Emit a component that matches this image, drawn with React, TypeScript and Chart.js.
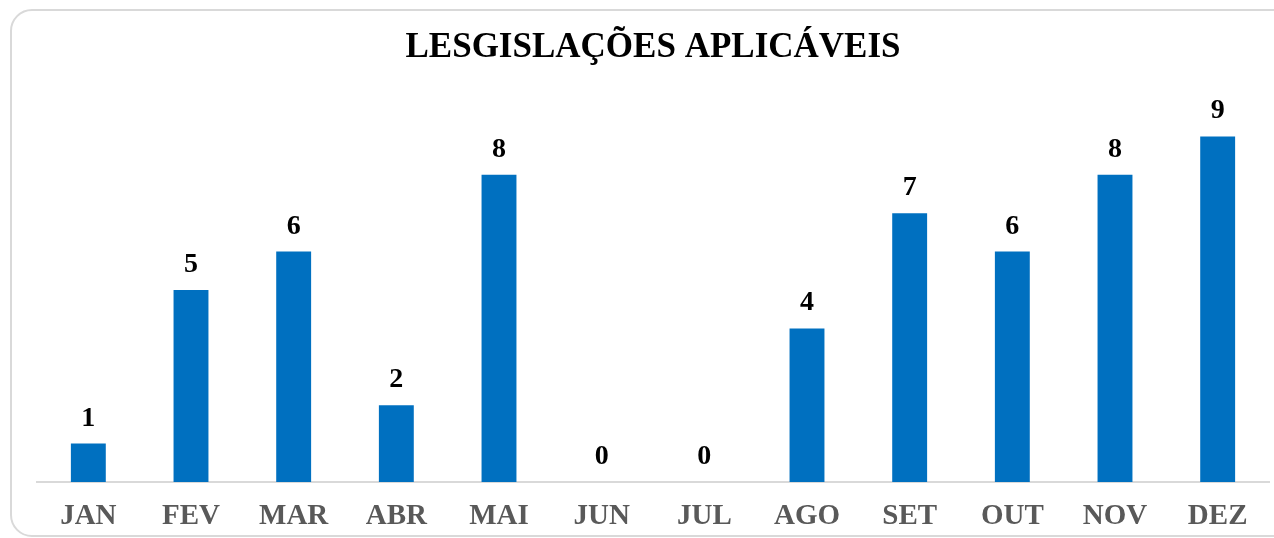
import React, { useEffect, useRef } from "react";
import { Chart, registerables } from "chart.js";

Chart.register(...registerables);

const categories = ["JAN", "FEV", "MAR", "ABR", "MAI", "JUN", "JUL", "AGO", "SET", "OUT", "NOV", "DEZ"];
const values = [1, 5, 6, 2, 8, 0, 0, 4, 7, 6, 8, 9];
const titleText = "LESGISLAÇÕES APLICÁVEIS";

const SERIF = '"Liberation Serif", "Times New Roman", serif';

const valueLabels = {
  id: "valueLabels",
  afterDatasetsDraw(chart: any) {
    const ctx = chart.ctx;
    const meta = chart.getDatasetMeta(0);
    ctx.save();
    ctx.font = `bold 28px ${SERIF}`;
    ctx.fillStyle = "#000000";
    ctx.textAlign = "center";
    ctx.textBaseline = "alphabetic";
    meta.data.forEach((bar: any, i: number) => {
      ctx.fillText(String(values[i]), bar.x, bar.y - 18);
    });
    ctx.restore();
  },
};

export default function App() {
  const ref = useRef<HTMLCanvasElement | null>(null);

  useEffect(() => {
    if (!ref.current) return;
    const chart = new Chart(ref.current, {
      type: "bar",
      data: {
        labels: categories,
        datasets: [
          {
            data: values,
            backgroundColor: "#0070C0",
            borderWidth: 0,
            barPercentage: 0.34,
            categoryPercentage: 1,
          },
        ],
      },
      options: {
        animation: false,
        responsive: false,
        maintainAspectRatio: false,
        layout: { padding: { left: 25, right: 25, top: 0, bottom: 0 } },
        plugins: {
          legend: { display: false },
          tooltip: { enabled: false },
          title: {
            display: true,
            text: titleText,
            color: "#000000",
            font: { family: SERIF, size: 35, weight: "bold" },
            padding: { top: 16, bottom: 29 },
          },
        },
        scales: {
          x: {
            grid: { display: false },
            border: { display: true, color: "#d9d9d9", width: 2 },
            ticks: {
              color: "#595959",
              font: { family: SERIF, size: 29, weight: "bold" },
              padding: 9,
              maxRotation: 0,
              autoSkip: false,
            },
            afterFit: (scale: any) => {
              scale.height = 53;
            },
          },
          y: {
            display: false,
            min: 0,
            max: 10,
          },
        },
      },
      plugins: [valueLabels],
    });
    return () => chart.destroy();
  }, []);

  return (
    <div style={{ position: "fixed", left: 0, top: 0, width: 1274, height: 538, overflow: "hidden", background: "#ffffff" }}>
      <div
        style={{
          position: "absolute",
          left: 10,
          top: 9,
          width: 1282,
          height: 524,
          border: "2px solid #d9d9d9",
          borderRadius: 22,
          background: "#ffffff",
        }}
      >
        <canvas ref={ref} width={1282} height={524} style={{ display: "block", width: 1282, height: 524 }} />
      </div>
    </div>
  );
}
